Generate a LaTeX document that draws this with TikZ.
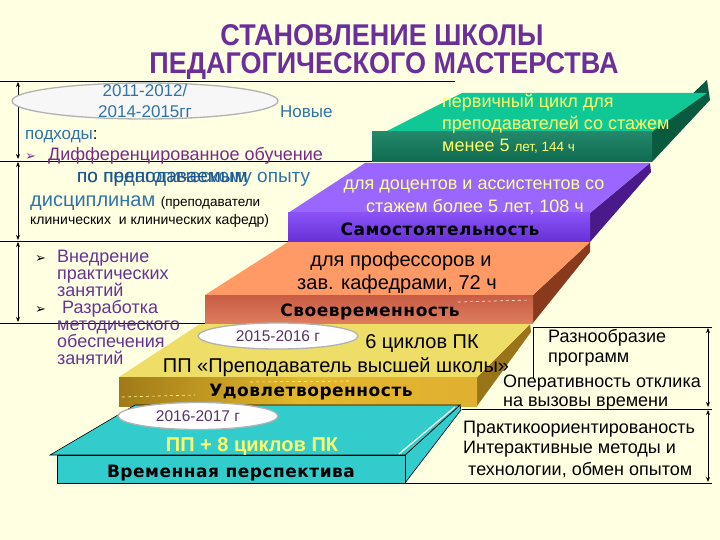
\documentclass[tikz,border=0pt]{standalone}
\usepackage{fontspec}
\usetikzlibrary{arrows.meta,shapes.geometric}
\setmainfont{Liberation Sans}
\newfontfamily\slabfont{DejaVu Sans}[LetterSpace=3]
\newfontfamily\symf{DejaVu Sans}
\newcommand{\myfs}[1]{\fontsize{#1}{#1}\selectfont}
\definecolor{bg}{HTML}{FFFFE1}
\definecolor{titlec}{HTML}{6B2E9A}
\definecolor{bluet}{HTML}{2F74A8}
\definecolor{bluedk}{HTML}{1F5588}
\definecolor{purpm}{HTML}{7A2A8A}
\definecolor{purpl}{HTML}{663399}
\definecolor{yel}{HTML}{FFFF66}
\definecolor{yel2}{HTML}{FFFF99}
\definecolor{grtop}{HTML}{10C896}
\definecolor{grfrontA}{HTML}{24886A}
\definecolor{grfrontB}{HTML}{0E6A50}
\definecolor{grside}{HTML}{0A5A40}
\definecolor{pptop}{HTML}{9966FF}
\definecolor{ppfrontA}{HTML}{8A52F6}
\definecolor{ppfrontB}{HTML}{6630D6}
\definecolor{ppside}{HTML}{4A1A8A}
\definecolor{ortop}{HTML}{FF9966}
\definecolor{orfrontA}{HTML}{C85C44}
\definecolor{orfrontB}{HTML}{DE7C5C}
\definecolor{orside}{HTML}{8A3A1C}
\definecolor{gdtop}{HTML}{EEDD66}
\definecolor{gdfrontA}{HTML}{A07A18}
\definecolor{gdfrontB}{HTML}{E0B030}
\definecolor{gdside}{HTML}{9A7418}
\definecolor{cy}{HTML}{33CCCC}
\definecolor{ovtext}{HTML}{553366}
\tikzset{
  txt/.style={inner sep=0pt, anchor=base},
  txtw/.style={inner sep=0pt, anchor=base west},
  guide/.style={draw=black, line width=0.7pt},
  dim/.style={draw=black, line width=0.9pt, {Stealth[length=5pt,width=4pt]}-{Stealth[length=5pt,width=4pt]}},
  oval/.style={ellipse, draw=gray!60, line width=1.3pt, fill=white, inner sep=0pt},
  slabtxt/.style={inner sep=0pt, anchor=base, font=\slabfont\bfseries\myfs{17}},
}
\begin{document}
\begin{tikzpicture}[x=1pt,y=-1pt]
\fill[bg] (0,0) rectangle (720,540);
\useasboundingbox (0,0) rectangle (720,540);

% ---------- title
\node[txt, text=titlec] (t1) at (382,46) {\scalebox{0.9}[1]{\myfs{30}\bfseries СТАНОВЛЕНИЕ ШКОЛЫ}};
\node[txt, text=titlec] (t2) at (384,74) {\scalebox{0.9}[1]{\myfs{30}\bfseries ПЕДАГОГИЧЕСКОГО МАСТЕРСТВА}};

% ---------- guide lines (left)
\coordinate (gA0) at (0,81);  \coordinate (gA1) at (455,81);
\coordinate (gB0) at (0,161); \coordinate (gB1) at (372,161);
\coordinate (gC0) at (0,241); \coordinate (gC1) at (288,241);
\coordinate (gD0) at (0,323); \coordinate (gD1) at (205,323);
\draw[guide] (gA0)--(gA1);
\draw[guide] (gB0)--(gB1);
\draw[guide] (gC0)--(gC1);
\draw[guide] (gD0)--(gD1);
\coordinate (dA0) at (18,82);  \coordinate (dA1) at (18,159);
\coordinate (dB0) at (18,162); \coordinate (dB1) at (18,240);
\coordinate (dC0) at (18,242); \coordinate (dC1) at (18,322);
\draw[dim] (dA0)--(dA1);
\draw[dim] (dB0)--(dB1);
\draw[dim] (dC0)--(dC1);

% ---------- guide lines (right)
\coordinate (rA0) at (533,327); \coordinate (rA1) at (712,327);
\coordinate (rB0) at (462,409); \coordinate (rB1) at (712,409);
\coordinate (rC0) at (405,483); \coordinate (rC1) at (712,483);
\coordinate (rV0) at (533,327); \coordinate (rV1) at (533,378);
\draw[guide] (rA0)--(rA1);
\draw[guide] (rB0)--(rB1);
\draw[guide] (rC0)--(rC1);
\draw[guide] (rV0)--(rV1);
\coordinate (eA0) at (708,328); \coordinate (eA1) at (708,407);
\coordinate (eB0) at (708,410); \coordinate (eB1) at (708,482);
\draw[dim] (eA0)--(eA1);
\draw[dim] (eB0)--(eB1);

% ---------- green slab (top)
\fill[grside] (652,132) -- (707,80) -- (710,100) -- (652,162) -- cycle;
\fill[grtop] (385,132) -- (462,93) -- (707,93) -- (652,132) -- cycle;
\shade[top color=grfrontA, bottom color=grfrontB] (372,132) rectangle (652,162);

% ---------- purple slab
\fill[ppside] (590,213) -- (650,163) -- (651,172) -- (590,242) -- cycle;
\fill[pptop] (288,213) -- (365,163) -- (650,163) -- (590,213) -- cycle;
\shade[top color=ppfrontA, bottom color=ppfrontB] (288,213) rectangle (590,242);

% ---------- orange slab
\fill[orside] (533,295) -- (590,242) -- (590,252) -- (533,323) -- cycle;
\fill[ortop] (205,295) -- (288,242) -- (590,242) -- (533,295) -- cycle;
\shade[top color=orfrontA, bottom color=orfrontB] (205,295) rectangle (533,323);
\draw[white!85!orange, dashed, line width=0.6pt] (458,302) -- (530,300);

% ---------- gold slab
\fill[gdside] (477,377) -- (530,324) -- (531,332) -- (477,406) -- cycle;
\fill[gdtop] (119,377) -- (200,324) -- (530,324) -- (477,377) -- cycle;
\shade[left color=gdfrontA, right color=gdfrontB, middle color=gdfrontB!90!yellow] (119,377) rectangle (477,406);
\draw[yel2, dashed, line width=0.6pt] (122,397) -- (195,395);
\draw[yel2, dashed, line width=0.6pt] (250,382) -- (350,381);

% ---------- cyan slab (bottom)
\filldraw[fill=cy, draw=black, line width=0.6pt] (405,455) -- (460,405) -- (461,410) -- (405,483) -- cycle;
\filldraw[fill=cy, draw=black, line width=0.6pt] (50,455) -- (135,405) -- (460,405) -- (405,455) -- cycle;
\filldraw[fill=cy, draw=black, line width=0.6pt] (57,455) rectangle (405,483);
\draw[white, line width=1.2pt] (399,454) -- (455,407);

% ---------- ovals
\node[oval, fill=white!94!gray, minimum width=266pt, minimum height=36pt] (ov1) at (145,101) {};
\node[oval, minimum width=160pt, minimum height=26pt] (ov2) at (278,336) {};
\node[oval, minimum width=160pt, minimum height=27pt] (ov3) at (198,416) {};
\node[txt, text=ovtext] (ov2t) at (278,341) {\myfs{15.5}2015-2016 г};
\node[txt, text=ovtext] (ov3t) at (198,421) {\myfs{15.5}2016-2017 г};

% ---------- left text block
\node[txt, text=bluet] (y1) at (145,97) {\myfs{17}2011-2012/};
\node[txt, text=bluet] (y2) at (145,118) {\myfs{17}2014-2015гг};
\node[txtw, text=bluet] (nov) at (280,118) {\myfs{17}Новые};
\node[txtw, text=bluet] (pod) at (25,140) {\myfs{17}подходы\textcolor{black}{:}};
\node[txtw, text=purpm] (dif) at (25,161) {\myfs{18}{\symf\myfs{13}➢}\hspace{12pt}Дифференцированное обучение};
\node[txtw, text=bluet] (ped) at (77,183) {\myfs{19}по педагогическому опыту};
\node[txtw, text=bluedk] (pre) at (77,183) {\myfs{19}по преподаваемым};
\node[txtw, text=bluet] (dis) at (30,207) {\myfs{20}дисциплинам \textcolor{black}{\myfs{13.5}(преподаватели}};
\node[txtw] (kl) at (30,225) {\myfs{14}клинических\ \ и клинических кафедр)};

\node[txtw] (b1) at (35,262) {\symf\myfs{13}➢};
\node[txtw, text=purpl] (l1) at (57,262) {\myfs{18}Внедрение};
\node[txtw, text=purpl] (l2) at (57,279) {\myfs{18}практических};
\node[txtw, text=purpl] (l3) at (57,296) {\myfs{18}занятий};
\node[txtw] (b2) at (35,313) {\symf\myfs{13}➢};
\node[txtw, text=purpl] (l4) at (57,313) {\myfs{18}\ Разработка};
\node[txtw, text=purpl] (l5) at (57,330) {\myfs{18}методического};
\node[txtw, text=purpl] (l6) at (57,347) {\myfs{18}обеспечения};
\node[txtw, text=purpl] (l7) at (57,364) {\myfs{18}занятий};

% ---------- slab texts
\node[txtw, text=yel] (g1) at (442,108) {\myfs{18}первичный цикл для};
\node[txtw, text=yel] (g2) at (442,130) {\myfs{18}преподавателей со стажем};
\node[txtw, text=yel] (g3) at (442,152) {\myfs{18}менее 5 {\myfs{13.5}лет, 144 ч}};

\node[txt, text=yel2] (p1) at (474,190) {\myfs{18}для доцентов и ассистентов со};
\node[txt, text=yel2] (p2) at (475,212) {\myfs{18}стажем более 5 лет, 108 ч};
\node[slabtxt] (p3) at (440,236) {Самостоятельность};

\node[txt] (o1) at (401,266) {\myfs{20}для профессоров и};
\node[txt] (o2) at (397,289) {\myfs{20}зав. кафедрами, 72 ч};
\node[slabtxt] (o3) at (370,316) {Своевременность};

\node[txt] (d1) at (422,348) {\myfs{20}6 циклов ПК};
\node[txt] (d2) at (336,372) {\myfs{20}ПП «Преподаватель высшей школы»};
\node[slabtxt] (d3) at (311,396) {Удовлетворенность};

\node[txt, text=yel] (c1) at (252,451) {\myfs{20}\bfseries ПП + 8 циклов ПК};
\node[slabtxt] (c2) at (231,477) {Временная перспектива};

% ---------- right texts
\node[txtw] (r1) at (548,342) {\myfs{18}Разнообразие};
\node[txtw] (r2) at (548,362) {\myfs{18}программ};
\node[txtw] (r3) at (503,387) {\myfs{18}Оперативность отклика};
\node[txtw] (r4) at (503,406) {\myfs{18}на вызовы времени};
\node[txtw] (r5) at (463,433) {\myfs{18}Практикоориентированость};
\node[txtw] (r6) at (463,453) {\myfs{18}Интерактивные методы и};
\node[txtw] (r7) at (468,475) {\myfs{18}технологии, обмен опытом};
\end{tikzpicture}
\end{document}
